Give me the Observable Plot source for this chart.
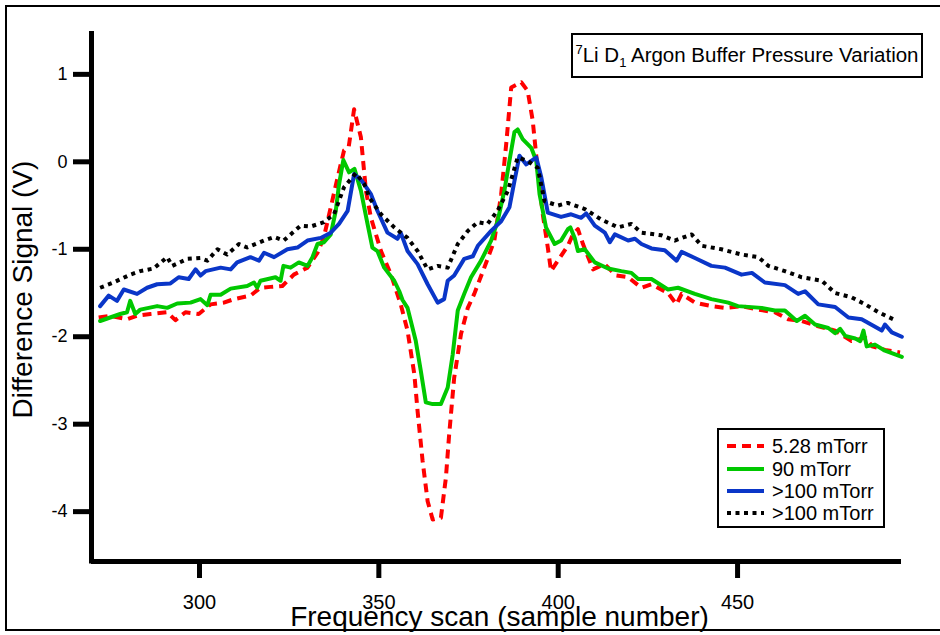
<!DOCTYPE html>
<html>
<head>
<meta charset="utf-8">
<script src="https://cdn.jsdelivr.net/npm/d3@7"></script>
<script src="https://cdn.jsdelivr.net/npm/@observablehq/plot@0.6"></script>
<style>
  html, body { margin: 0; padding: 0; background: #fff; overflow: hidden; }
  #wrap { position: relative; width: 940px; height: 635px; font-family: "Liberation Sans", Arial, sans-serif; }
  #border { position: absolute; left: 5px; top: 5px; width: 1000px; height: 626px; border: 2px solid #000; box-sizing: border-box; }
  #chart { position: absolute; left: 0; top: 0; }
  #title { position: absolute; left: 571px; top: 33px; width: 352px; height: 45px; border: 2px solid #000; box-sizing: border-box;
           display: flex; align-items: center; justify-content: center; font-size: 20.5px; color: #000; background: #fff; white-space: nowrap; }
  #title sup, #title sub { font-size: 13px; }
  #legend { position: absolute; left: 0; top: 0; }
  g[aria-label="x-axis tick label"] { font-size: 20px; }
  g[aria-label="y-axis tick label"] { font-size: 18px; }
</style>
</head>
<body>
<div id="wrap">
  <div id="border"></div>
  <div id="chart"></div>
  <div id="title"><span><sup>7</sup>Li D<sub>1</sub> Argon Buffer Pressure Variation</span></div>
</div>
<script>
// ---- data (sample number, difference signal in V) ----
const xTicks = [300, 350, 400, 450];
const yTicks = [1, 0, -1, -2, -3, -4];
const seriesLabels = ["5.28 mTorr", "90 mTorr", ">100 mTorr", ">100 mTorr"];

const red528 = [[271.9,-1.78],[275.1,-1.76],[279.8,-1.80],[282.6,-1.76],[286.3,-1.74],[291,-1.72],[293.3,-1.81],[296.1,-1.72],[299.8,-1.74],[303.1,-1.63],[306.8,-1.61],[309.6,-1.57],[314.2,-1.53],[317,-1.44],[319.8,-1.43],[323.1,-1.42],[326.3,-1.29],[330.1,-1.21],[332.9,-1.04],[334.7,-0.86],[336.6,-0.52],[338.5,-0.18],[340.3,0.13],[341.6,0.17],[343.1,0.6],[345,0.28],[346.4,-0.33],[347.8,-0.64],[350.6,-1.02],[353.4,-1.29],[356.1,-1.63],[358,-1.93],[359.9,-2.43],[360.8,-2.85],[362.2,-3.42],[363.6,-3.88],[365,-4.09],[367.3,-4.07],[368.7,-3.61],[369.6,-3.12],[371,-2.47],[372.9,-1.97],[374.8,-1.67],[376.6,-1.51],[379.4,-1.21],[382.2,-0.9],[384.1,-0.37],[385.5,0.2],[386.9,0.85],[389.7,0.91],[391.5,0.81],[392.9,0.47],[394.3,-0.1],[395.7,-0.6],[397.1,-0.98],[398,-1.25],[399.9,-1.13],[402.7,-0.96],[404.1,-0.83],[405.5,-0.77],[406.9,-0.94],[409.7,-1.23],[412.9,-1.17],[416.2,-1.3],[419.5,-1.32],[423.2,-1.44],[426,-1.4],[430.6,-1.5],[433,-1.63],[434.4,-1.51],[438.1,-1.61],[442.7,-1.65],[446.5,-1.67],[451.1,-1.65],[455.8,-1.69],[460.4,-1.72],[464.1,-1.8],[467.9,-1.82],[472.5,-1.88],[477.2,-1.93],[481.8,-2.05],[485.6,-2.01],[487.5,-2.11],[491.1,-2.15],[495.3,-2.18]];

const green90 = [[272.3,-1.82],[275.1,-1.78],[277.9,-1.74],[279.8,-1.72],[280.7,-1.59],[282.1,-1.74],[283.5,-1.69],[288.2,-1.65],[291,-1.67],[293.8,-1.62],[297.5,-1.61],[300.3,-1.57],[302.2,-1.64],[303.1,-1.52],[305.9,-1.52],[308.7,-1.45],[313.3,-1.42],[315.2,-1.38],[316.1,-1.44],[317,-1.36],[321.2,-1.32],[322.6,-1.36],[323.4,-1.19],[325.4,-1.21],[327.7,-1.15],[330.1,-1.19],[331.5,-1.09],[332.9,-0.94],[334.7,-0.92],[336.6,-0.83],[338,-0.56],[338.9,-0.26],[340.1,0.02],[341.7,-0.12],[343.2,-0.08],[345,-0.33],[346.8,-0.7],[348.2,-0.98],[349.6,-1.02],[351.5,-1.21],[354.3,-1.36],[355.7,-1.48],[356.6,-1.58],[358,-1.67],[360.3,-2.05],[361.7,-2.39],[363.1,-2.75],[365,-2.77],[367.3,-2.77],[369.2,-2.58],[370.6,-2.2],[372,-1.7],[373.8,-1.51],[375.7,-1.32],[378.5,-1.13],[381.3,-0.9],[383.1,-0.68],[385,-0.33],[386.4,0.01],[387.8,0.34],[388.7,0.37],[390.1,0.26],[392.5,0.16],[393.9,0.01],[394.8,-0.37],[396.6,-0.75],[399,-0.94],[400.8,-0.9],[402.7,-0.77],[403.4,-0.75],[404.6,-0.87],[405.5,-1.02],[407.4,-1.0],[410.2,-1.15],[413.9,-1.22],[417.6,-1.25],[420.4,-1.27],[422.3,-1.34],[426,-1.34],[430.6,-1.46],[433.4,-1.44],[438.1,-1.51],[442.7,-1.57],[447.4,-1.61],[450.1,-1.65],[456.7,-1.67],[460.4,-1.7],[463.2,-1.7],[466.5,-1.82],[468.8,-1.76],[471.6,-1.86],[475.3,-1.9],[477.2,-1.96],[478.6,-1.91],[480,-1.99],[482.8,-2.02],[484.2,-2.05],[485.1,-1.93],[486,-2.11],[488.3,-2.09],[491.1,-2.16],[495.8,-2.23]];

const blue100 = [[272.3,-1.65],[274.7,-1.53],[277,-1.59],[278.9,-1.46],[282.6,-1.51],[285.4,-1.44],[288.2,-1.4],[291.9,-1.39],[294.2,-1.32],[297,-1.34],[298.9,-1.23],[300.3,-1.3],[301.7,-1.25],[305.9,-1.21],[308.7,-1.23],[310.5,-1.15],[314.2,-1.09],[316.6,-1.13],[318,-1.04],[320.8,-1.09],[324.5,-1.0],[327.3,-0.98],[330.1,-0.9],[333.8,-0.87],[336.6,-0.81],[338.9,-0.71],[341.3,-0.56],[343.1,-0.14],[345.3,-0.22],[347.8,-0.37],[349.6,-0.56],[352.4,-0.81],[355.2,-0.88],[356.1,-0.81],[358,-1.02],[360.8,-1.17],[363.6,-1.4],[366.4,-1.61],[368.2,-1.57],[369.2,-1.36],[371,-1.3],[373.8,-1.11],[376.2,-1.08],[377.6,-0.96],[381.3,-0.79],[384.1,-0.68],[386.4,-0.52],[387.8,-0.22],[389.2,0.07],[391.1,-0.03],[393.9,0.05],[395.3,-0.18],[397.1,-0.58],[400.8,-0.63],[403.6,-0.6],[406.4,-0.64],[407.8,-0.59],[410.2,-0.73],[413,-0.81],[414.4,-0.92],[415.8,-0.83],[419.5,-0.9],[421.4,-0.88],[423.2,-0.94],[426,-0.99],[429.7,-1.01],[433,-1.13],[434.4,-1.03],[438.1,-1.1],[442.7,-1.19],[446.5,-1.21],[451.1,-1.29],[454,-1.27],[457.6,-1.38],[463.2,-1.41],[466.9,-1.51],[468.8,-1.48],[472.5,-1.63],[477.2,-1.66],[480.9,-1.78],[484.6,-1.8],[490.2,-1.93],[491.1,-1.86],[493,-1.95],[495.8,-2.0]];

const black100 = [[272.3,-1.44],[276,-1.38],[280.7,-1.29],[283.5,-1.25],[287.2,-1.22],[291,-1.09],[292.4,-1.19],[296.6,-1.11],[300.3,-1.1],[302.2,-1.13],[305,-1.0],[307.7,-1.06],[311,-0.94],[313.3,-0.98],[318,-0.9],[320.8,-0.86],[323.5,-0.9],[328.2,-0.73],[331,-0.74],[334.7,-0.69],[337.5,-0.6],[340.3,-0.29],[343.6,-0.13],[345.9,-0.25],[347.5,-0.42],[350.6,-0.6],[354.3,-0.75],[358,-0.87],[360.8,-1.02],[363.6,-1.23],[366.4,-1.19],[369.2,-1.21],[372,-0.94],[374.8,-0.79],[377.6,-0.69],[380.3,-0.71],[383.1,-0.56],[386,-0.33],[388.7,0.05],[391.5,0.01],[394.3,-0.07],[396.2,-0.45],[399.9,-0.5],[402.7,-0.47],[407.4,-0.54],[412,-0.66],[416.7,-0.75],[420.4,-0.71],[423.2,-0.81],[428.8,-0.84],[432.5,-0.9],[437.2,-0.83],[440,-0.96],[445.5,-1.0],[451.1,-1.06],[455.8,-1.09],[458.6,-1.19],[463.2,-1.25],[467.9,-1.32],[473.5,-1.36],[477.2,-1.5],[481.8,-1.55],[485.6,-1.63],[489.3,-1.72],[494.4,-1.82]];

// ---- styling ----
const styles = [
  {stroke: "#ff0000", dash: "9,6"},
  {stroke: "#00c800", dash: null},
  {stroke: "#0a36c8", dash: null},
  {stroke: "#000000", dash: "4,4.5"}
];
const allSeries = [red528, green90, blue100, black100];

const xDomain = [269.9, 495.7];
const yDomain = [-4.57, 1.49];

const lineMarks = allSeries.map((s, i) => Plot.line(s, {
  x: d => d[0], y: d => d[1],
  stroke: styles[i].stroke, strokeWidth: 4,
  strokeDasharray: styles[i].dash || undefined,
  strokeLinejoin: "round", strokeLinecap: styles[i].dash ? "butt" : "round"
}));

const chart = Plot.plot({
  width: 940, height: 635,
  marginLeft: 91, marginRight: 39, marginTop: 31, marginBottom: 74,
  style: {fontFamily: "'Liberation Sans', Arial, sans-serif", background: "transparent", color: "#000"},
  x: {domain: xDomain},
  y: {domain: yDomain},
  marks: [
    Plot.axisX({ticks: xTicks, tickSize: 17, tickPadding: 16, strokeWidth: 5, label: null, tickFormat: d => String(d)}),
    Plot.axisY({ticks: yTicks, tickSize: 18, tickPadding: 6, strokeWidth: 5, label: null, tickFormat: d => String(d)}),
    ...lineMarks,
    Plot.ruleX([xDomain[0]], {y1: yDomain[0] - 0.03, y2: yDomain[1], stroke: "#000", strokeWidth: 5}),
    Plot.ruleY([yDomain[0]], {stroke: "#000", strokeWidth: 5}),
    Plot.text(["Frequency scan (sample number)"], {frameAnchor: "bottom", dx: 3, dy: 64, fontSize: 28, lineAnchor: "bottom", textAnchor: "middle", fill: "#000"}),
    Plot.text(["Difference Signal (V)"], {frameAnchor: "left", rotate: -90, dx: -60, dy: -7, fontSize: 28, lineAnchor: "bottom", textAnchor: "middle", fill: "#000"})
  ]
});
document.getElementById("chart").appendChild(chart);

// ---- legend (inside plot, lower right) ----
const lg = d3.select("#wrap").append("svg").attr("id", "legend").attr("width", 940).attr("height", 635);
lg.append("rect").attr("x", 718).attr("y", 429).attr("width", 166).attr("height", 98)
  .attr("fill", "#fff").attr("stroke", "#000").attr("stroke-width", 2);
const rowY = [446, 469, 491, 513];
seriesLabels.forEach((lab, i) => {
  lg.append("line").attr("x1", 727).attr("x2", 764).attr("y1", rowY[i]).attr("y2", rowY[i])
    .attr("stroke", styles[i].stroke).attr("stroke-width", 4)
    .attr("stroke-dasharray", styles[i].dash);
  lg.append("text").attr("x", 772).attr("y", rowY[i]).attr("dy", "0.35em")
    .attr("font-size", 20).attr("font-family", "'Liberation Sans', Arial, sans-serif").text(lab);
});
</script>
</body>
</html>
